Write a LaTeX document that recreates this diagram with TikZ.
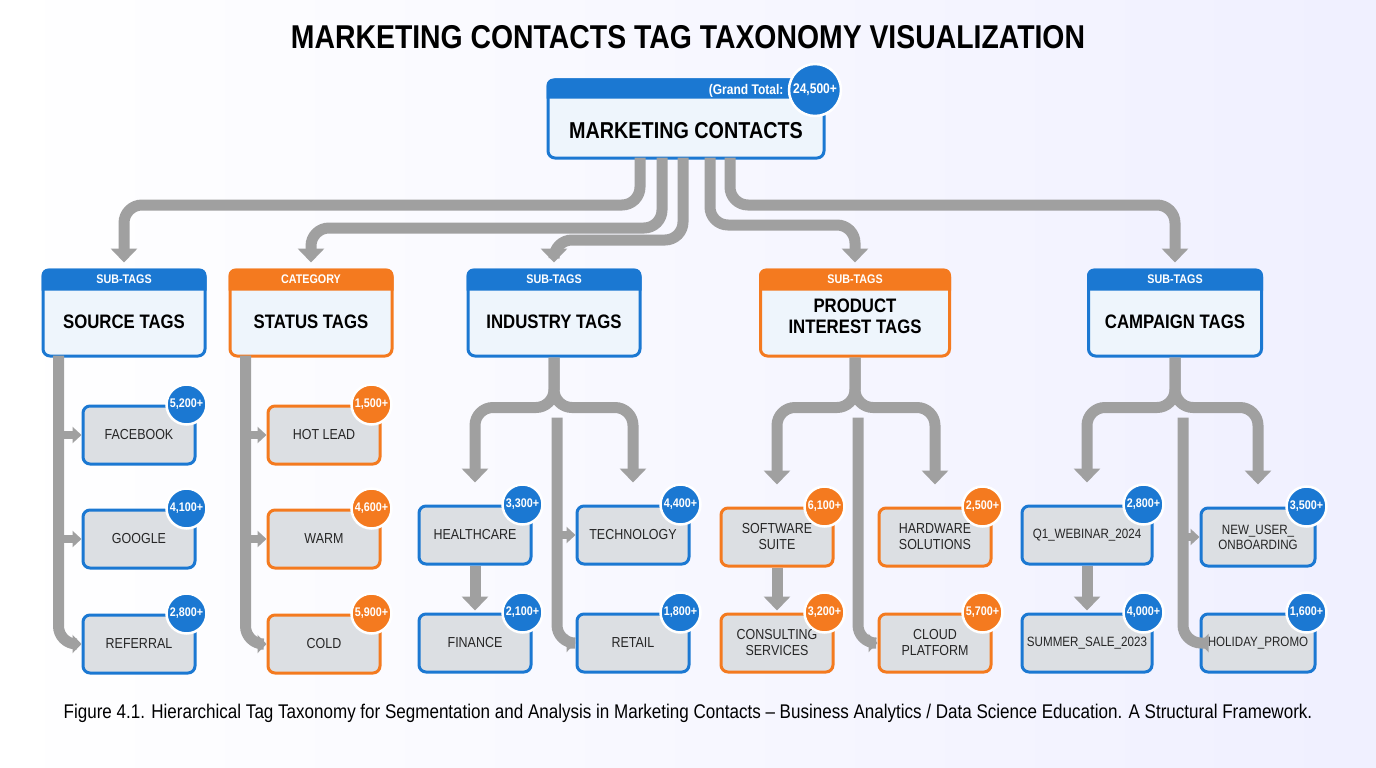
\documentclass[tikz,border=0pt]{standalone}
\usepackage{fontspec}
\setmainfont{Liberation Sans}[FakeStretch=0.86]
\usetikzlibrary{arrows.meta,calc,positioning}
\definecolor{tagblue}{HTML}{1B78D2}
\definecolor{tagorange}{HTML}{F47A1F}
\definecolor{leafgray}{HTML}{DCDFE3}
\definecolor{boxfill}{HTML}{EEF5FC}
\definecolor{linkgray}{HTML}{A0A0A0}
\tikzset{
  catbox/.style={draw=#1, line width=3pt, fill=boxfill, rounded corners=7pt, minimum height=86pt, align=center, font=\fontsize{19.5}{21}\selectfont\bfseries},
  leaf/.style={draw=#1, line width=3pt, fill=leafgray, rounded corners=7pt, minimum width=112pt, minimum height=58pt, align=center, font=\fontsize{14.5}{16}\selectfont, text=black!85},
  badge/.style={circle, fill=#1, draw=white, line width=2.5pt, minimum size=40pt, inner sep=0pt, text=white, font=\fontsize{12.5}{12}\selectfont\bfseries},
  conn/.style={draw=linkgray, line width=11pt, rounded corners=18pt, -{Triangle[length=14pt,width=26pt]}},
  stub/.style={draw=linkgray, line width=8pt, -{Triangle[length=9pt,width=16pt]}},
}
\newcommand{\tagheader}[3]{%
  \fill[#2] ([yshift=-22pt]#1.north west) [rounded corners=7pt] -- (#1.north west) -- (#1.north east) [sharp corners] -- ([yshift=-22pt]#1.north east) -- cycle;
  \node[text=white, font=\fontsize{12.5}{13}\selectfont\bfseries] at ([yshift=-11pt]#1.north) {#3};}
\begin{document}
\begin{tikzpicture}[x=1pt, y=-1pt]
  \shade[left color=white, right color=blue!6!white] (0,0) rectangle (1376,768);
  \useasboundingbox (0,0) rectangle (1376,768);
  \node[font=\fontsize{33}{35}\selectfont\bfseries] (title) at (688,37) {MARKETING CONTACTS TAG TAXONOMY VISUALIZATION};

  % root
  \node[catbox=tagblue, minimum width=276pt, minimum height=78pt, font=\fontsize{23}{25}\selectfont\bfseries] (root) at (686,119) {};
  \fill[tagblue] ([yshift=-20pt]root.north west) [rounded corners=7pt] -- (root.north west) -- (root.north east) [sharp corners] -- ([yshift=-20pt]root.north east) -- cycle;
  \node[font=\fontsize{23}{25}\selectfont\bfseries] (rootlabel) at (686,131) {MARKETING CONTACTS};
  \node[anchor=east, text=white, font=\fontsize{14}{14}\selectfont\bfseries] (gtlabel) at (787,91) {(Grand Total:};
  \node[badge=tagblue, minimum size=52pt, font=\fontsize{14}{14}\selectfont\bfseries] (gtbadge) at (815,90) {24,500+};

  % categories
  \node[catbox=tagblue, minimum width=162pt] (src) at (124,313) {\\[10pt]SOURCE TAGS};
  \node[catbox=tagorange, minimum width=162pt] (sta) at (311,313) {\\[10pt]STATUS TAGS};
  \node[catbox=tagblue, minimum width=172pt] (ind) at (554,313) {\\[10pt]INDUSTRY TAGS};
  \node[catbox=tagorange, minimum width=189pt] (pro) at (855,313) {\\[0pt]PRODUCT\\INTEREST TAGS};
  \node[catbox=tagblue, minimum width=173pt] (cam) at (1175,313) {\\[10pt]CAMPAIGN TAGS};
  \tagheader{src}{tagblue}{SUB-TAGS}
  \tagheader{sta}{tagorange}{CATEGORY}
  \tagheader{ind}{tagblue}{SUB-TAGS}
  \tagheader{pro}{tagorange}{SUB-TAGS}
  \tagheader{cam}{tagblue}{SUB-TAGS}

  % root connectors
  \draw[conn, shorten >=6pt] ($(root.south)+(-46,-2)$) |- (400,205) -| (src.north);
  \draw[conn, shorten >=6pt] ($(root.south)+(-24,-2)$) |- (500,228) -| (sta.north);
  \draw[conn, shorten >=6pt] ($(root.south)+(-3,-2)$) |- (600,240) -| (ind.north);
  \draw[conn, shorten >=6pt] ($(root.south)+(24,-2)$) |- (800,225) -| (pro.north);
  \draw[conn, shorten >=6pt] ($(root.south)+(44,-2)$) |- (900,205) -| (cam.north);

  % source and status leaves
  \node[leaf=tagblue] (fb) at (139,435) {FACEBOOK};
  \node[leaf=tagblue] (gg) at (139,539) {GOOGLE};
  \node[leaf=tagblue] (ref) at (139,644) {REFERRAL};
  \node[leaf=tagorange] (hot) at (324,435) {HOT LEAD};
  \node[leaf=tagorange] (warm) at (324,539) {WARM};
  \node[leaf=tagorange] (cold) at (324,644) {COLD};
  \coordinate (srcT) at ($(src.south west)+(17,-2)$);
  \coordinate (staT) at ($(sta.south west)+(17,-2)$);
  \draw[conn, -{Triangle[length=9pt,width=18pt]}] (srcT) |- (ref.west);
  \draw[stub] (srcT |- fb.west) -- (fb.west);
  \draw[stub] (srcT |- gg.west) -- (gg.west);
  \draw[conn, -{Triangle[length=9pt,width=18pt]}] (staT) |- (cold.west);
  \draw[stub] (staT |- hot.west) -- (hot.west);
  \draw[stub] (staT |- warm.west) -- (warm.west);

  % industry leaves
  \node[leaf=tagblue] (hc) at (475,535) {HEALTHCARE};
  \node[leaf=tagblue] (tech) at (633,535) {TECHNOLOGY};
  \node[leaf=tagblue] (fin) at (475,643) {FINANCE};
  \node[leaf=tagblue] (ret) at (633,643) {RETAIL};
  \coordinate (indT) at ($(ind.south)+(3,60)$);
  \draw[conn, shorten >=22pt] (ind.south) -- ++(0,50) -| (hc.north);
  \draw[conn, shorten >=22pt] (ind.south) -- ++(0,50) -| (tech.north);
  \draw[conn, -{Triangle[length=9pt,width=18pt]}] (indT) |- (ret.west);
  \draw[stub] (indT |- tech.west) -- (tech.west);
  \draw[conn, shorten >=2pt] (hc.south) -- (fin.north);

  % product leaves
  \node[leaf=tagorange] (sw) at (777,537) {SOFTWARE\\SUITE};
  \node[leaf=tagorange] (hw) at (935,537) {HARDWARE\\SOLUTIONS};
  \node[leaf=tagorange] (cons) at (777,643) {CONSULTING\\SERVICES};
  \node[leaf=tagorange] (cloud) at (935,643) {CLOUD\\PLATFORM};
  \coordinate (proT) at ($(pro.south)+(3,60)$);
  \draw[conn, shorten >=22pt] (pro.south) -- ++(0,50) -| (sw.north);
  \draw[conn, shorten >=22pt] (pro.south) -- ++(0,50) -| (hw.north);
  \draw[conn, -{Triangle[length=9pt,width=18pt]}] (proT) |- (cloud.west);
  \draw[conn, shorten >=2pt] (sw.south) -- (cons.north);

  % campaign leaves
  \node[leaf=tagblue, minimum width=130pt, font=\fontsize{13.5}{15}\selectfont] (q1) at (1087,535) {Q1\_WEBINAR\_2024};
  \node[leaf=tagblue, minimum width=114pt, font=\fontsize{13.5}{15}\selectfont] (nu) at (1258,537) {NEW\_USER\_\\ONBOARDING};
  \node[leaf=tagblue, minimum width=130pt, font=\fontsize{13.5}{15}\selectfont] (sum) at (1087,643) {SUMMER\_SALE\_2023};
  \node[leaf=tagblue, minimum width=114pt, font=\fontsize{13.5}{15}\selectfont] (hol) at (1258,643) {HOLIDAY\_PROMO};
  \coordinate (camT) at ($(cam.south)+(8,60)$);
  \draw[conn, shorten >=22pt] (cam.south) -- ++(0,50) -| (q1.north);
  \draw[conn, shorten >=22pt] (cam.south) -- ++(0,50) -| (nu.north);
  \draw[conn, -{Triangle[length=9pt,width=18pt]}] (camT) |- (hol.west);
  \draw[stub] (camT |- nu.west) -- (nu.west);
  \draw[conn, shorten >=2pt] (q1.south) -- (sum.north);

  % badges
  \node[badge=tagblue] (bfb) at ($(fb.north east)+(-10,0)$) {5,200+};
  \node[badge=tagblue] (bgg) at ($(gg.north east)+(-10,0)$) {4,100+};
  \node[badge=tagblue] (bref) at ($(ref.north east)+(-10,0)$) {2,800+};
  \node[badge=tagorange] (bhot) at ($(hot.north east)+(-10,0)$) {1,500+};
  \node[badge=tagorange] (bwarm) at ($(warm.north east)+(-10,0)$) {4,600+};
  \node[badge=tagorange] (bcold) at ($(cold.north east)+(-10,0)$) {5,900+};
  \node[badge=tagblue] (bhc) at ($(hc.north east)+(-10,0)$) {3,300+};
  \node[badge=tagblue] (btech) at ($(tech.north east)+(-10,0)$) {4,400+};
  \node[badge=tagblue] (bfin) at ($(fin.north east)+(-10,0)$) {2,100+};
  \node[badge=tagblue] (bret) at ($(ret.north east)+(-10,0)$) {1,800+};
  \node[badge=tagorange] (bsw) at ($(sw.north east)+(-10,0)$) {6,100+};
  \node[badge=tagorange] (bhw) at ($(hw.north east)+(-10,0)$) {2,500+};
  \node[badge=tagorange] (bcons) at ($(cons.north east)+(-10,0)$) {3,200+};
  \node[badge=tagorange] (bcloud) at ($(cloud.north east)+(-10,0)$) {5,700+};
  \node[badge=tagblue] (bq1) at ($(q1.north east)+(-10,0)$) {2,800+};
  \node[badge=tagblue] (bnu) at ($(nu.north east)+(-10,0)$) {3,500+};
  \node[badge=tagblue] (bsum) at ($(sum.north east)+(-10,0)$) {4,000+};
  \node[badge=tagblue] (bhol) at ($(hol.north east)+(-10,0)$) {1,600+};

  \node[font=\fontsize{19.8}{21}\selectfont] (caption) at (688,713) {Figure 4.1. Hierarchical Tag Taxonomy for Segmentation and Analysis in Marketing Contacts -- Business Analytics / Data Science Education. A Structural Framework.};
\end{tikzpicture}
\end{document}
